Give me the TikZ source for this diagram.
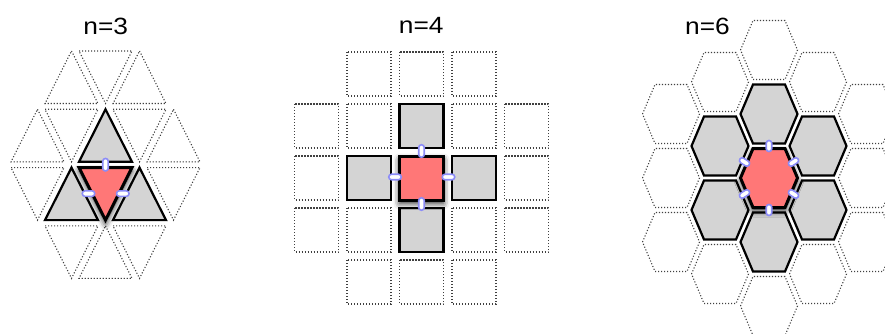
\documentclass[tikz,border=0pt]{standalone}
\usepackage{fontspec}
\setmainfont{Liberation Sans}
\usetikzlibrary{shadows.blur}
\definecolor{redfill}{HTML}{FF7777}
\definecolor{grayfill}{HTML}{D4D4D4}
\definecolor{pillblue}{HTML}{8C8CF8}
\tikzset{
  ghost/.style={draw=black!75, line width=1.1pt, dash pattern=on 1.1pt off 1.9pt},
  tile/.style={draw=black, fill=grayfill, line width=2.2pt},
  focus/.style={draw=black, fill=redfill, line width=3pt,
    blur shadow={shadow xshift=0pt, shadow yshift=-3.5pt, shadow blur radius=6pt, shadow opacity=85}},
  pill/.style={draw=pillblue, fill=white, line width=1.6pt, rectangle, rounded corners=2.7pt,
    minimum width=12.5pt, minimum height=5.5pt, inner sep=0pt},
  hexpill/.style={pill, minimum width=11pt},
  title/.style={font=\fontsize{23.5}{23.5}\selectfont, anchor=base, inner sep=0pt}
}
\newcommand\triup[3]{\path[#1] (#2,#3) -- ++(26.5,52.5) -- ++(-53,0) -- cycle;}
\newcommand\tridown[3]{\path[#1] ({#2-26.5},#3) -- ++(53,0) -- ++(-26.5,52.5) -- cycle;}
\newcommand\sqat[3]{\path[#1] ({#2-22},{#3-22}) rectangle ++(44,44);}
\newcommand\hexat[3]{\path[#1] ({#2-28.5},#3) -- ++(12.5,-29.5) -- ++(32,0) -- ++(12.5,29.5) -- ++(-12.5,29.5) -- ++(-32,0) -- cycle;}
\begin{document}
\begin{tikzpicture}[x=1pt,y=-1pt]
\useasboundingbox (0,0) rectangle (885,334);
\clip (0,0) rectangle (885,334);
% titles
\node[title] (t3) at (105.8,34.5) {\scalebox{1.12}[1]{n=3}};
\node[title] (t4) at (421.3,33.5) {\scalebox{1.12}[1]{n=4}};
\node[title] (t6) at (707.5,34.5) {\scalebox{1.12}[1]{n=6}};
% ---------- n=3 : triangles ----------
\triup{ghost}{71.5}{51}
\tridown{ghost}{105.5}{51}
\triup{ghost}{139.5}{51}
\triup{ghost}{37.5}{109.3}
\tridown{ghost}{71.5}{109.3}
\tridown{ghost}{139.5}{109.3}
\triup{ghost}{173.5}{109.3}
\tridown{ghost}{37.5}{167.6}
\tridown{ghost}{173.5}{167.6}
\tridown{ghost}{71.5}{225.9}
\triup{ghost}{105.5}{225.9}
\tridown{ghost}{139.5}{225.9}
\triup{tile}{105.5}{109.3}
\triup{tile}{71.5}{167.6}
\triup{tile}{139.5}{167.6}
\tridown{focus}{105.5}{167.6}
\node[pill, rotate=90] (p3t) at (105.5,164.7) {};
\node[pill] (p3l) at (88.5,193.6) {};
\node[pill] (p3r) at (122.8,193.6) {};
% ---------- n=4 : squares ----------
\foreach \i/\j in {-1/-2,0/-2,1/-2,
                   -2/-1,-1/-1,1/-1,2/-1,
                   -2/0,2/0,
                   -2/1,-1/1,1/1,2/1,
                   -1/2,0/2,1/2}{
  \sqat{ghost}{421.5+52.5*\i}{178+52*\j}
}
\sqat{tile}{421.5}{126}
\sqat{tile}{369}{178}
\sqat{tile}{474}{178}
\sqat{tile}{421.5}{230}
\sqat{focus}{421.5}{178}
\node[pill, rotate=90] (p4t) at (421.5,151) {};
\node[pill, rotate=90] (p4b) at (421.5,204) {};
\node[pill] (p4l) at (395,177) {};
\node[pill] (p4r) at (448.5,177) {};
% ---------- n=6 : hexagons ----------
\foreach \cx/\cy in {769/50,769/306,
                     720/82,720/274,818/82,818/274,
                     671/114,671/178,671/242,
                     867/114,867/178,867/242}{
  \hexat{ghost}{\cx}{\cy}
}
\hexat{tile}{769}{114}
\hexat{tile}{769}{242}
\hexat{tile}{720}{146}
\hexat{tile}{720}{210}
\hexat{tile}{818}{146}
\hexat{tile}{818}{210}
\hexat{focus}{769}{178}
\node[hexpill, rotate=90] (p6t) at (769,146) {};
\node[hexpill, rotate=90] (p6b) at (769,210) {};
\node[hexpill, rotate=-33] (p6ul) at (744.5,162) {};
\node[hexpill, rotate=33] (p6ur) at (793.5,162) {};
\node[hexpill, rotate=33] (p6ll) at (744.5,194) {};
\node[hexpill, rotate=-33] (p6lr) at (793.5,194) {};
\end{tikzpicture}
\end{document}
